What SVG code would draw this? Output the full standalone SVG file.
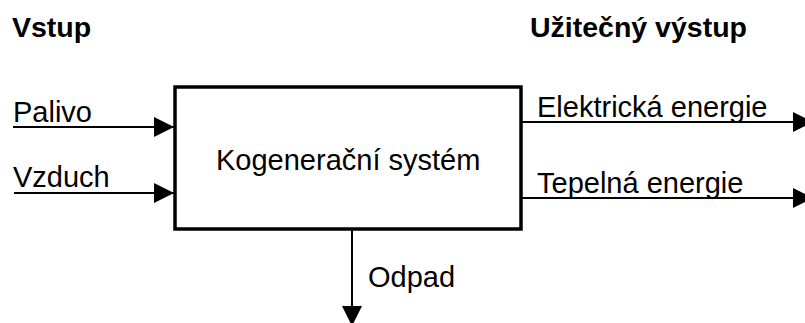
<svg xmlns="http://www.w3.org/2000/svg" width="805" height="323" viewBox="0 0 805 323">
<defs>
<style>
text{font-family:"Liberation Sans",Arial,sans-serif;font-size:29px;fill:#000}
.h{font-weight:bold;font-size:28.5px}
.ln{stroke:#000;stroke-width:2;fill:none}
.box{fill:#fff;stroke:#000;stroke-width:3.5}
</style>
<marker id="ah" markerUnits="userSpaceOnUse" markerWidth="20" markerHeight="20" refX="20" refY="10" orient="auto" viewBox="0 0 20 20">
<path d="M0,0 L20,10 L0,20 z" fill="#000"/>
</marker>
</defs>
<rect width="805" height="323" fill="#fff"/>
<text class="h" x="12" y="37">Vstup</text>
<text class="h" x="530" y="37">Užitečný výstup</text>
<g id="connectors">
<line class="ln" x1="13" y1="127" x2="174" y2="127" marker-end="url(#ah)"/>
<line class="ln" x1="14" y1="193" x2="174" y2="193" marker-end="url(#ah)"/>
<line class="ln" x1="522" y1="122" x2="813" y2="122" marker-end="url(#ah)"/>
<line class="ln" x1="522" y1="198" x2="813" y2="198" marker-end="url(#ah)"/>
<line class="ln" x1="352" y1="230" x2="352" y2="326" marker-end="url(#ah)"/>
</g>
<g id="n-palivo"><text x="13" y="122">Palivo</text></g>
<g id="n-vzduch"><text x="13" y="187">Vzduch</text></g>
<g id="n-system">
<rect class="box" x="175" y="87" width="346" height="142"/>
<text x="216" y="170">Kogenerační systém</text>
</g>
<g id="n-elektricka"><text x="537" y="117">Elektrická energie</text></g>
<g id="n-tepelna"><text x="537" y="193">Tepelná energie</text></g>
<g id="n-odpad"><text x="368" y="287">Odpad</text></g>
</svg>
